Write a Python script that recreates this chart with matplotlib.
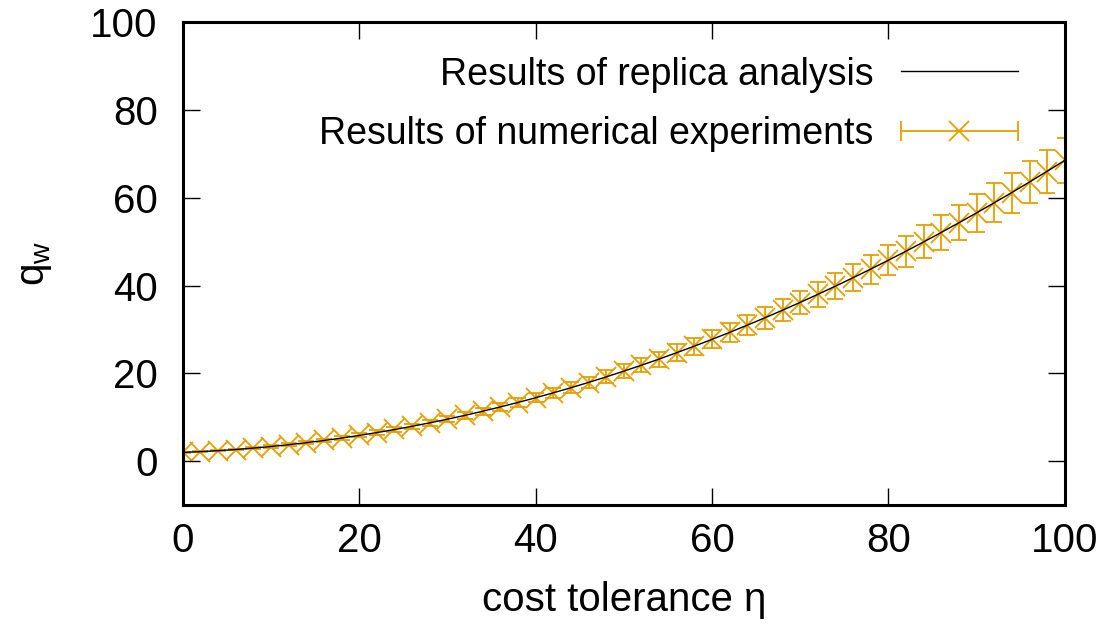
import matplotlib
matplotlib.use('Agg')
import matplotlib.pyplot as plt
from matplotlib.lines import Line2D
from matplotlib.legend_handler import HandlerBase

plt.rcParams['font.family'] = ['Liberation Sans', 'DejaVu Sans']
plt.rcParams['mathtext.default'] = 'regular'

# data
eta = list(range(0, 101, 2))
q_replica = [2.00, 2.17, 2.39, 2.66, 2.98, 3.34, 3.75, 4.21, 4.71, 5.26,
             5.86, 6.51, 7.20, 7.94, 8.73, 9.56, 10.44, 11.37, 12.35, 13.37,
             14.44, 15.56, 16.72, 17.93, 19.19, 20.50, 21.85, 23.25, 24.70, 26.20,
             27.74, 29.33, 30.97, 32.65, 34.38, 36.16, 37.99, 39.86, 41.78, 43.75,
             45.76, 47.82, 49.93, 52.09, 54.29, 56.54, 58.84, 61.18, 63.57, 66.01,
             68.50]
q_exp = [2.02, 2.16, 2.40, 2.65, 2.99, 3.33, 3.76, 4.20, 4.72, 5.25,
         5.87, 6.50, 7.22, 7.93, 8.75, 9.55, 10.46, 11.36, 12.37, 13.35,
         14.46, 15.55, 16.74, 17.91, 19.21, 20.48, 21.88, 23.22, 24.73, 26.17,
         27.77, 29.30, 31.00, 32.62, 34.41, 36.13, 38.02, 39.83, 41.81, 43.71,
         45.80, 47.78, 49.97, 52.05, 54.33, 56.50, 58.88, 61.13, 63.61, 65.96,
         68.55]
q_err = [0.15, 0.16, 0.18, 0.20, 0.22, 0.25, 0.28, 0.32, 0.35, 0.39,
         0.44, 0.49, 0.54, 0.60, 0.65, 0.72, 0.78, 0.85, 0.93, 1.00,
         1.08, 1.17, 1.25, 1.34, 1.44, 1.54, 1.64, 1.74, 1.85, 1.96,
         2.08, 2.20, 2.32, 2.45, 2.58, 2.71, 2.85, 2.99, 3.13, 3.28,
         3.43, 3.59, 3.74, 3.91, 4.07, 4.24, 4.41, 4.59, 4.77, 4.95,
         5.14]

orange = '#E69F00'


class HandlerHErr(HandlerBase):
    # gnuplot-like key sample: horizontal bar with end caps and a cross
    def create_artists(self, legend, orig_handle, xdescent, ydescent,
                       width, height, fontsize, trans):
        y = height / 2 - ydescent
        x0, x1 = -xdescent, width - xdescent
        bar = Line2D([x0, x1], [y, y], color=orange, lw=1.3,
                     marker='|', markersize=14, markeredgewidth=1.3)
        mk = Line2D([(x0 + x1) / 2], [y], color=orange, marker='x',
                    markersize=15, markeredgewidth=1.3, linestyle='none')
        bar.set_transform(trans)
        mk.set_transform(trans)
        return [bar, mk]


fig = plt.figure(figsize=(11.08, 6.29), dpi=100)
ax = fig.add_axes([0.165, 0.197, 0.796, 0.768])

line, = ax.plot(eta, q_replica, color='black', lw=1.0,
                label='Results of replica analysis')
ax.errorbar(eta, q_exp, yerr=q_err, fmt='x', color=orange, ecolor=orange,
            elinewidth=1.3, capsize=6, capthick=1.3, markersize=15,
            markeredgewidth=1.3, zorder=1)

ax.set_xlim(0, 100)
ax.set_ylim(-10, 100)
ax.set_xticks([0, 20, 40, 60, 80, 100])
ax.set_yticks([0, 20, 40, 60, 80, 100])
ax.tick_params(direction='in', length=12, width=1.0, labelsize=29,
               top=True, right=True)
ax.tick_params(axis='x', pad=12)
ax.tick_params(axis='y', pad=18)
for s in ax.spines.values():
    s.set_linewidth(2.2)

ax.set_xlabel('cost tolerance η', fontsize=29, labelpad=15)
ax.set_ylabel('q$_w$', fontsize=29, labelpad=26)

exp_handle = Line2D([], [], color=orange)
ax.legend([line, exp_handle],
          ['Results of replica analysis', 'Results of numerical experiments'],
          handler_map={exp_handle: HandlerHErr()},
          loc='upper right', bbox_to_anchor=(0.972, 0.975), frameon=False,
          markerfirst=False, fontsize=27, handlelength=3.1,
          handletextpad=0.75, labelspacing=0.62, borderaxespad=0.2)

fig.savefig('out.png', dpi=100)
